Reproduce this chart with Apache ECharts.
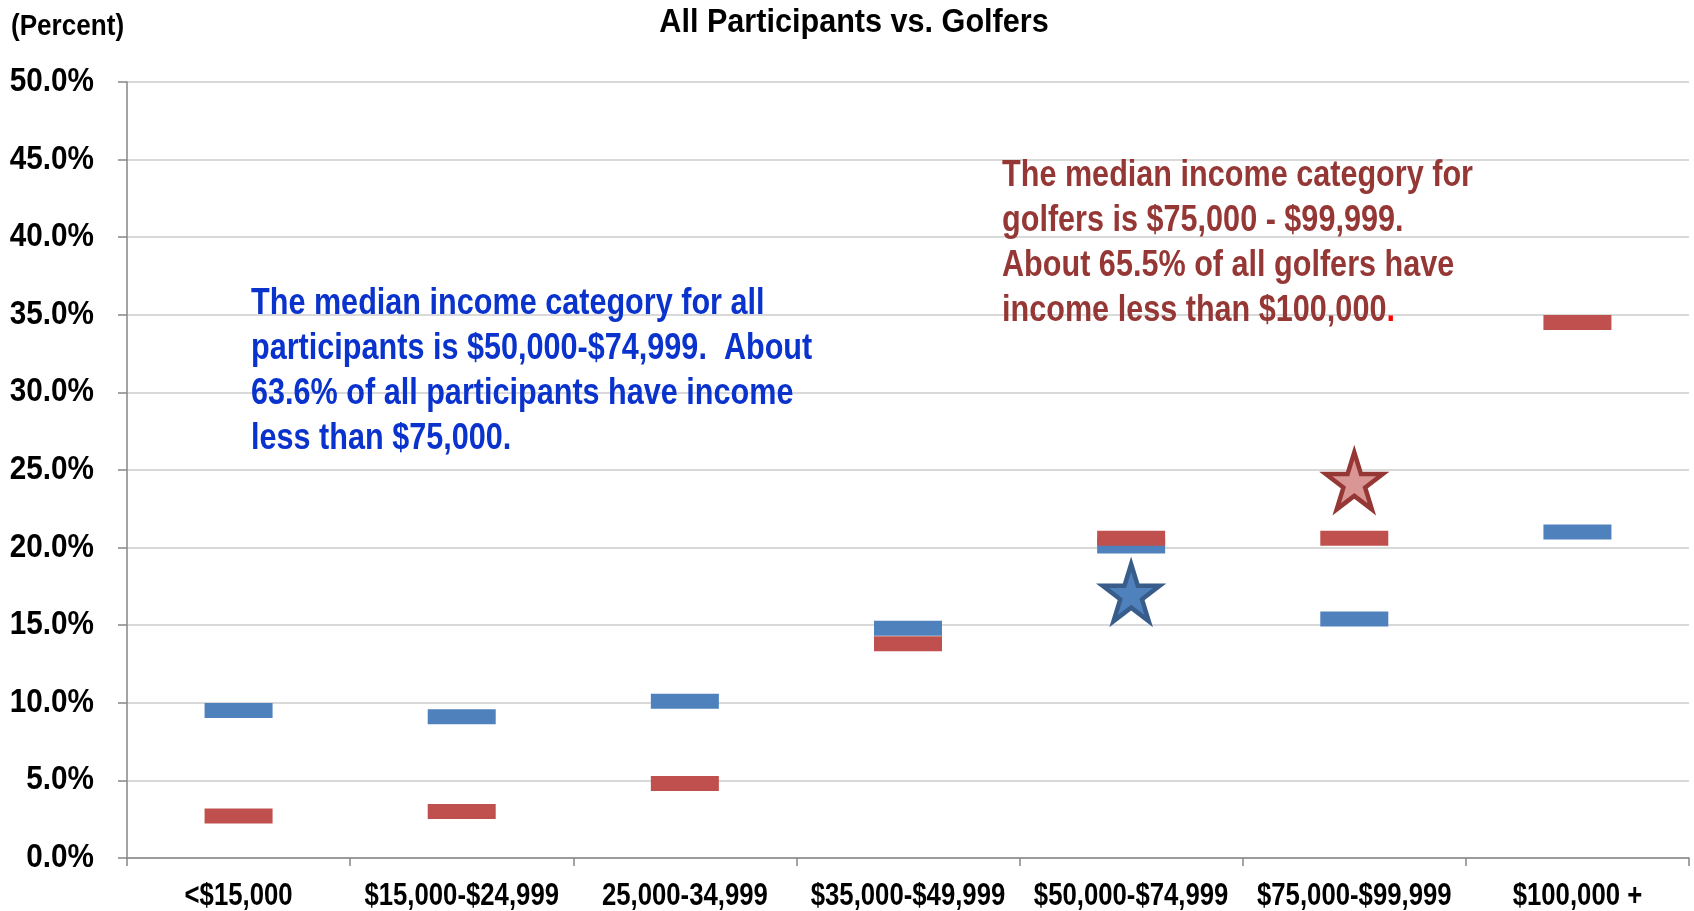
<!DOCTYPE html>
<html>
<head>
<meta charset="utf-8">
<script src="https://cdn.jsdelivr.net/npm/echarts@6/dist/echarts.min.js"></script>
<style>
  html, body { margin: 0; padding: 0; background: #ffffff; }
  #chart { width: 1694px; height: 911px; }
</style>
</head>
<body>
<div id="chart"></div>
<script>
// Income categories on the x axis
const categories = ['<$15,000', '$15,000-$24,999', '25,000-34,999', '$35,000-$49,999',
                    '$50,000-$74,999', '$75,000-$99,999', '$100,000 +'];
// Share of each income group (percent)
const allParticipants = [9.5, 9.1, 10.1, 14.8, 20.1, 15.4, 21.0];
const golfers = [2.7, 3.0, 4.8, 13.8, 20.6, 20.6, 34.5];
// Star markers flagging the median category of each group
const medianAll = [['$50,000-$74,999', 17.1]];
const medianGolfers = [['$75,000-$99,999', 24.3]];
// Value axis ticks
const yTicks = [0, 5, 10, 15, 20, 25, 30, 35, 40, 45, 50];

// Bold sans squeezed horizontally for a condensed look
const FACE = "'Liberation Sans', Arial, sans-serif";
const font = size => 'bold ' + size + 'px ' + FACE;
const STAR = 'path://M50,0 L61.2,34.5 L97.6,34.5 L68.2,55.9 L79.4,90.5 L50,69.1 L20.6,90.5 L31.8,55.9 L2.4,34.5 L38.8,34.5 Z';

const chart = echarts.init(document.getElementById('chart'), null, { renderer: 'canvas' });

chart.setOption({
  backgroundColor: '#ffffff',
  animation: false,
  grid: { left: 127, right: 5, top: 82, bottom: 53, containLabel: false },
  xAxis: {
    type: 'category',
    data: categories,
    boundaryGap: true,
    axisLine: { show: true, lineStyle: { color: '#868686', width: 1.5 } },
    axisTick: { show: true, length: 8, alignWithLabel: false, lineStyle: { color: '#868686', width: 1.5 } },
    axisLabel: { show: false },
    splitLine: { show: false }
  },
  yAxis: {
    type: 'value',
    min: yTicks[0], max: yTicks[yTicks.length - 1], interval: yTicks[1] - yTicks[0],
    axisLine: { show: true, lineStyle: { color: '#868686', width: 1.5 } },
    axisTick: { show: true, length: 9, lineStyle: { color: '#868686', width: 1.5 } },
    axisLabel: { show: false },
    splitLine: { show: true, lineStyle: { color: '#D9D9D9', width: 2 } }
  },
  series: [
    {
      name: 'All Participants', type: 'scatter', data: allParticipants,
      symbol: 'rect', symbolSize: [68, 15],
      itemStyle: { color: '#4F81BD', opacity: 1 }, z: 3
    },
    {
      name: 'Golfers', type: 'scatter', data: golfers,
      symbol: 'rect', symbolSize: [68, 15],
      itemStyle: { color: '#C0504D', opacity: 1 }, z: 4
    },
    {
      name: 'Median (all)', type: 'scatter', data: medianAll,
      symbol: STAR, symbolSize: [57, 57],
      itemStyle: { color: '#4F81BD', borderColor: '#385D8A', borderWidth: 4.5, opacity: 1 }, z: 5
    },
    {
      name: 'Median (golfers)', type: 'scatter', data: medianGolfers,
      symbol: STAR, symbolSize: [57, 57],
      itemStyle: { color: '#D99694', borderColor: '#953735', borderWidth: 4.5, opacity: 1 }, z: 5
    }
  ]
});

// Texts: axis labels placed through the axes' own scales, plus title and notes
const texts = [];
const txt = (x, y, text, size, sx, align, vAlign, fill, extra) => texts.push({
  type: 'text', x: x, y: y, scaleX: sx, originX: 0, originY: 0, z: 100,
  style: Object.assign({ text: text, font: font(size), fill: fill || '#000',
                         align: align, verticalAlign: vAlign }, extra || {})
});

yTicks.forEach(v => {
  const py = chart.convertToPixel({ yAxisIndex: 0 }, v);
  txt(94, py, v.toFixed(1) + '%', 33, 0.9, 'right', 'middle');
});
categories.forEach(c => {
  const px = chart.convertToPixel({ xAxisIndex: 0 }, c);
  txt(px, 896, c, 31, 0.83, 'center', 'middle');
});

txt(11, 27, '(Percent)', 30, 0.87, 'left', 'middle');
txt(854, 23, 'All Participants vs. Golfers', 34, 0.9, 'center', 'middle');

txt(251, 282,
  'The median income category for all\nparticipants is $50,000-$74,999.  About\n63.6% of all participants have income\nless than $75,000.',
  36, 0.85, 'left', 'top', '#0A32CC', { lineHeight: 45 });

txt(1002, 154,
  '{t|The median income category for\ngolfers is $75,000 - $99,999.\nAbout 65.5% of all golfers have\nincome less than $100,000}{p|.}',
  36, 0.85, 'left', 'top', '#953735', {
    lineHeight: 45,
    rich: {
      t: { font: font(36), fill: '#953735', lineHeight: 45 },
      p: { font: font(36), fill: '#FF0000', lineHeight: 45 }
    }
  });

chart.setOption({ graphic: texts });
</script>
</body>
</html>
